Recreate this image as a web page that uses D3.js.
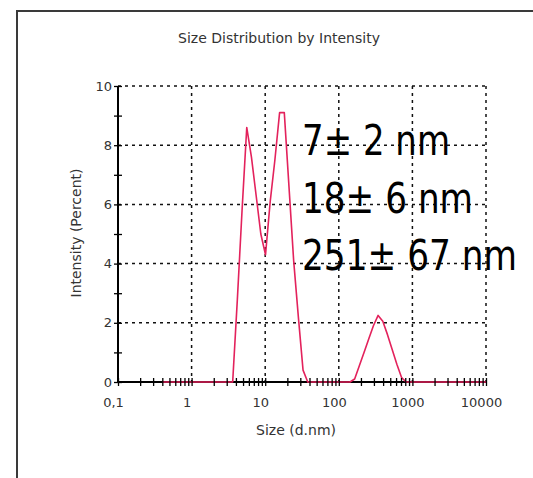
<!DOCTYPE html>
<html>
<head>
<meta charset="utf-8">
<script src="https://cdn.jsdelivr.net/npm/d3@7"></script>
<style>
  html, body { margin: 0; padding: 0; background: #fff; }
  svg { display: block; }
</style>
</head>
<body>
<svg id="chart" width="533" height="478"></svg>
<script>
// ---- data ----
const sizes = [0.4000, 0.4632, 0.5365, 0.6213, 0.7195, 0.8332, 0.9649, 1.117, 1.294, 1.499,
  1.736, 2.010, 2.328, 2.696, 3.122, 3.615, 4.187, 4.849, 5.615, 6.503,
  7.531, 8.721, 10.10, 11.70, 13.54, 15.69, 18.17, 21.04, 24.36, 28.21,
  32.67, 37.84, 43.82, 50.75, 58.77, 68.06, 78.82, 91.28, 105.7, 122.4,
  141.8, 164.2, 190.1, 220.2, 255.0, 295.3, 342.0, 396.1, 458.7, 531.2,
  615.1, 712.4, 825.0, 955.4, 1106, 1281, 1484, 1718, 1990, 2305,
  2669, 3091, 3580, 4145, 4801, 5560, 6439, 7456, 8635, 10000];
const intensity = [0, 0, 0, 0, 0, 0, 0, 0, 0, 0,
  0, 0, 0, 0, 0, 0, 2.8, 5.8, 8.6, 7.6,
  6.3, 5.0, 4.3, 6.1, 7.5, 9.1, 9.1, 6.6, 4.1, 2.2,
  0.4, 0, 0, 0, 0, 0, 0, 0, 0, 0,
  0, 0.1, 0.55, 1.0, 1.45, 1.9, 2.25, 2.05, 1.6, 1.1,
  0.6, 0.15, 0, 0, 0, 0, 0, 0, 0, 0,
  0, 0, 0, 0, 0, 0, 0, 0, 0, 0];
const xTickValues = [0.1, 1, 10, 100, 1000, 10000];
const xTickLabels = ["0,1", "1", "10", "100", "1000", "10000"];
const yTickValues = [0, 2, 4, 6, 8, 10];
const yMinorValues = [0, 1, 2, 3, 4, 5, 6, 7, 8, 9, 10];
const peakLabels = ["7\u00b1 2 nm", "18\u00b1 6 nm", "251\u00b1 67 nm"];
const titleText = "Size Distribution by Intensity";
const xTitle = "Size (d.nm)";
const yTitle = "Intensity (Percent)";

// ---- layout ----
const svg = d3.select("#chart");
const pLeft = 118, pRight = 486, pTop = 86, pBottom = 382;
const x = d3.scaleLog().domain([0.1, 10000]).range([pLeft, pRight]);
const y = d3.scaleLinear().domain([0, 10]).range([pBottom, pTop]);
const smallFont = "'DejaVu Sans', sans-serif";

svg.append("rect").attr("width", 533).attr("height", 478).attr("fill", "#fff");

// frame
svg.append("line").attr("x1", 17).attr("x2", 533).attr("y1", 11).attr("y2", 11)
  .attr("stroke", "#3a3a3a").attr("stroke-width", 2);
svg.append("line").attr("x1", 17).attr("x2", 17).attr("y1", 10).attr("y2", 478)
  .attr("stroke", "#3a3a3a").attr("stroke-width", 2);

// title
svg.append("text").attr("x", 279).attr("y", 43).attr("text-anchor", "middle")
  .attr("font-family", smallFont).attr("font-size", 14).attr("fill", "#333")
  .text(titleText);

// grid
const grid = svg.append("g").attr("stroke", "#111").attr("stroke-width", 1.5)
  .attr("stroke-dasharray", "3,4");
grid.selectAll("line.h").data(yTickValues.filter(d => d > 0)).enter().append("line")
  .attr("class", "h").attr("x1", pLeft).attr("x2", pRight)
  .attr("y1", d => y(d)).attr("y2", d => y(d));
grid.selectAll("line.v").data(xTickValues.filter(d => d > 0.1)).enter().append("line")
  .attr("class", "v").attr("x1", d => x(d)).attr("x2", d => x(d))
  .attr("y1", pTop).attr("y2", pBottom);

// axis lines
svg.append("line").attr("x1", pLeft).attr("x2", pLeft).attr("y1", pTop).attr("y2", pBottom)
  .attr("stroke", "#000").attr("stroke-width", 2);
svg.append("line").attr("x1", pLeft).attr("x2", pRight).attr("y1", pBottom).attr("y2", pBottom)
  .attr("stroke", "#000").attr("stroke-width", 2);

// curve
const line = d3.line().x((d, i) => x(sizes[i])).y(d => y(d));
svg.append("path").datum(intensity).attr("d", line)
  .attr("fill", "none").attr("stroke", "#e3225c").attr("stroke-width", 1.6)
  .attr("stroke-linejoin", "round");

// x minor/major ticks (crossing)
const xTicksAxis = d3.axisBottom(x).tickValues(x.ticks()).tickSizeInner(8).tickSizeOuter(0).tickFormat("");
const gxt = svg.append("g").attr("transform", `translate(0,${pBottom - 4})`).call(xTicksAxis);
gxt.select(".domain").remove();
gxt.selectAll(".tick line").attr("stroke", "#000").attr("stroke-width", 1.3);

// y ticks (crossing)
const yTicksAxis = d3.axisLeft(y).tickValues(yMinorValues).tickSizeInner(8).tickSizeOuter(0).tickFormat("");
const gyt = svg.append("g").attr("transform", `translate(${pLeft + 4},0)`).call(yTicksAxis);
gyt.select(".domain").remove();
gyt.selectAll(".tick line").attr("stroke", "#000").attr("stroke-width", 1.3);

// x labels
const xLabAxis = d3.axisBottom(x).tickValues(xTickValues).tickSize(0).tickPadding(16)
  .tickFormat((d, i) => xTickLabels[i]);
const gxl = svg.append("g").attr("transform", `translate(0,${pBottom})`).call(xLabAxis);
gxl.select(".domain").remove();
gxl.selectAll("text").attr("font-family", smallFont).attr("font-size", 13).attr("fill", "#333")
  .attr("dx", -5);

// y labels
const yLabAxis = d3.axisLeft(y).tickValues(yTickValues).tickSize(0).tickPadding(6);
const gyl = svg.append("g").attr("transform", `translate(${pLeft},0)`).call(yLabAxis);
gyl.select(".domain").remove();
gyl.selectAll("text").attr("font-family", smallFont).attr("font-size", 13).attr("fill", "#333");

// axis titles
svg.append("text").attr("x", 296).attr("y", 435).attr("text-anchor", "middle")
  .attr("font-family", smallFont).attr("font-size", 14).attr("fill", "#333").text(xTitle);
svg.append("text").attr("transform", "translate(80.5,233) rotate(-90)").attr("text-anchor", "middle")
  .attr("font-family", smallFont).attr("font-size", 14).attr("fill", "#333").text(yTitle);

// peak annotations
const annWidths = [148, 171, 215];
svg.selectAll("text.ann").data(peakLabels).enter().append("text")
  .attr("class", "ann")
  .attr("x", 302).attr("y", (d, i) => 155 + i * 57.5)
  .attr("font-family", "'DejaVu Sans', sans-serif").attr("font-size", 43)
  .attr("textLength", (d, i) => annWidths[i]).attr("lengthAdjust", "spacingAndGlyphs")
  .attr("fill", "#000").text(d => d);
</script>
</body>
</html>
